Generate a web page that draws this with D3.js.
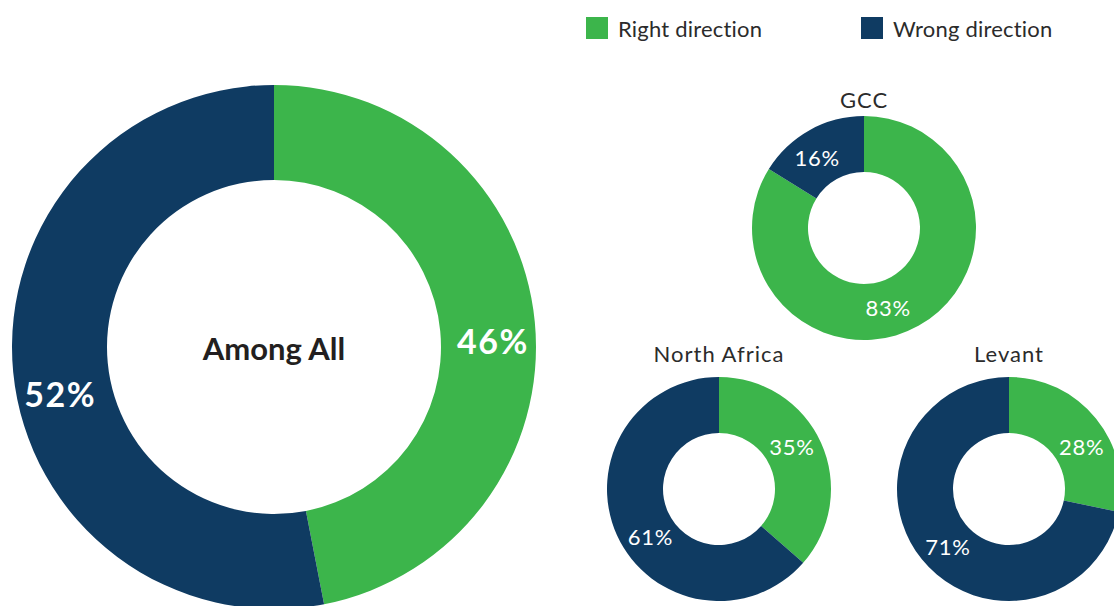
<!DOCTYPE html>
<html>
<head>
<meta charset="utf-8">
<script src="https://cdn.jsdelivr.net/npm/d3@7"></script>
<style>
  html, body { margin: 0; padding: 0; background: #ffffff; }
  svg { display: block; }
  text { font-family: Lato, "Open Sans", sans-serif; }
</style>
</head>
<body>
<svg id="chart" width="1114" height="606"></svg>
<script>
// ---- data ----
const regions = ["Among All", "GCC", "North Africa", "Levant"];
const rightDirection = [46, 83, 35, 28];
const wrongDirection = [52, 16, 61, 71];
const seriesNames = ["Right direction", "Wrong direction"];
// label placement (degrees clockwise from 12 o'clock) for [right, wrong]
const labelAngles = [[88.7, 257.5], [163.3, 326.1], [60.2, 234.8], [59.9, 226.7]];

// ---- layout ----
const colors = ["#3cb54b", "#0f3b62"];
const layout = [
  { cx: 274, cy: 347, r: 262, ir: 167, labelR: 219, big: true },
  { cx: 864, cy: 228, r: 112, ir: 56, labelR: 84, titleY: 108 },
  { cx: 719, cy: 489, r: 112, ir: 56, labelR: 84, titleY: 362 },
  { cx: 1009, cy: 489, r: 112, ir: 56, labelR: 84, titleY: 362 }
];

const svg = d3.select("#chart");
const color = d3.scaleOrdinal().domain(seriesNames).range(colors);
const pie = d3.pie().sort(null).value(d => d.value);

regions.forEach((name, i) => {
  const L = layout[i];
  const data = [
    { key: seriesNames[0], value: rightDirection[i] },
    { key: seriesNames[1], value: wrongDirection[i] }
  ];
  const arcs = pie(data);
  const arc = d3.arc().innerRadius(L.ir).outerRadius(L.r);
  const g = svg.append("g").attr("transform", `translate(${L.cx},${L.cy})`);
  g.selectAll("path").data(arcs).join("path")
    .attr("d", arc)
    .attr("fill", d => color(d.data.key));

  g.selectAll("text.val").data(arcs).join("text")
    .attr("class", "val")
    .attr("x", (d, j) => L.labelR * Math.sin(labelAngles[i][j] * Math.PI / 180))
    .attr("y", (d, j) => -L.labelR * Math.cos(labelAngles[i][j] * Math.PI / 180))
    .attr("dy", "0.36em")
    .attr("text-anchor", "middle")
    .attr("fill", "#ffffff")
    .attr("font-size", L.big ? 34 : 22)
    .attr("font-weight", L.big ? 700 : 400)
    .attr("letter-spacing", L.big ? 1.5 : 0.7)
    .text(d => d.data.value + "%");

  if (L.big) {
    g.append("text")
      .attr("x", 0).attr("y", 13)
      .attr("text-anchor", "middle")
      .attr("fill", "#231f20")
      .attr("font-size", 31)
      .attr("font-weight", 700)
      .text(name);
  } else {
    svg.append("text")
      .attr("x", L.cx).attr("y", L.titleY)
      .attr("text-anchor", "middle")
      .attr("fill", "#2b2b2b")
      .attr("font-size", 22)
      .attr("letter-spacing", 1)
      .text(name);
  }
});

// legend
const legendX = [586, 861];
const legend = svg.selectAll("g.legend").data(seriesNames).join("g")
  .attr("class", "legend")
  .attr("transform", (d, i) => `translate(${legendX[i]},17)`);
legend.append("rect").attr("width", 22).attr("height", 22).attr("fill", d => color(d));
legend.append("text").attr("x", 32).attr("y", 20)
  .attr("fill", "#2b2b2b").attr("font-size", 22).attr("letter-spacing", 0.2).text(d => d);
</script>
</body>
</html>
